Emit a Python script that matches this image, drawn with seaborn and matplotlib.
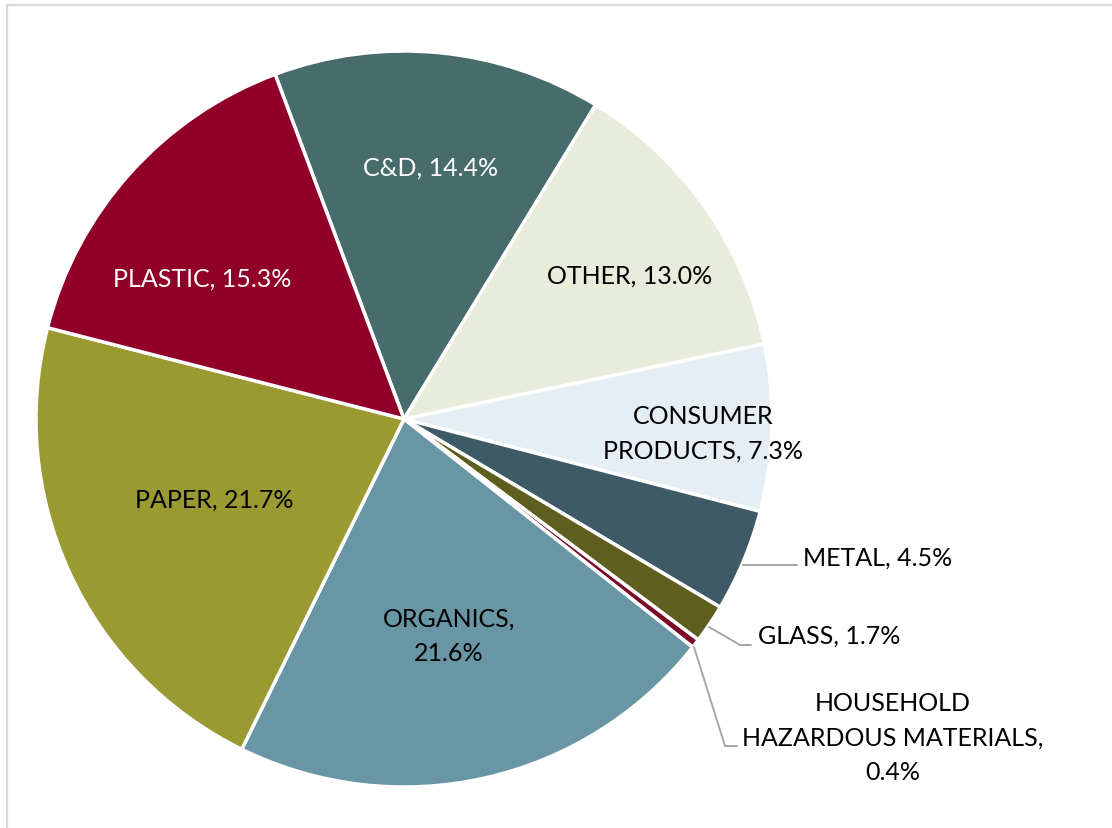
import matplotlib
matplotlib.use('Agg')
import matplotlib.pyplot as plt
import seaborn as sns

# waste composition shares (%), clockwise from the C&D slice
categories = ['C&D', 'OTHER', 'CONSUMER\nPRODUCTS', 'METAL', 'GLASS',
              'HOUSEHOLD\nHAZARDOUS MATERIALS,', 'ORGANICS', 'PAPER', 'PLASTIC']
shares = [14.4, 13.0, 7.3, 4.5, 1.7, 0.4, 21.6, 21.7, 15.3]
colors = ['#476c6b', '#e8ecda', '#e5eef4', '#3e5a66', '#5e5e1f',
          '#7a0a26', '#6996a5', '#9a9a33', '#910029']
text_colors = ['white', 'black', 'black', 'black', 'black',
               'black', 'black', 'black', 'white']
label_texts = ['C&D, 14.4%', 'OTHER, 13.0%', 'CONSUMER\nPRODUCTS, 7.3%',
               'METAL, 4.5%', 'GLASS, 1.7%',
               'HOUSEHOLD\nHAZARDOUS MATERIALS,\n0.4%',
               'ORGANICS,\n21.6%', 'PAPER, 21.7%', 'PLASTIC, 15.3%']

# label centres in pixels of the 1112x829 canvas
label_px = [(431, 168), (630, 276), (703, 434), (878, 558), (829, 636),
            (893, 738), (449, 636), (214, 500), (202, 279)]
# leader lines for the small outside slices (pixels)
leaders = {
    3: [(743, 566), (797, 566)],
    4: [(709, 628), (740, 646), (751, 646)],
    5: [(694, 648), (725, 747), (737, 747)],
}

sns.set_theme(style='white')
plt.rcParams['font.family'] = ['Lato', 'DejaVu Sans']

W, H = 1112, 829
cx, cy, R = 404, 420, 368
fig = plt.figure(figsize=(W / 100, H / 100), dpi=100)
ax = fig.add_axes([(cx - R) / W, (H - cy - R) / H, 2 * R / W, 2 * R / H])
ax.pie(shares, colors=colors, startangle=110.5, counterclock=False,
       radius=1, wedgeprops=dict(edgecolor='white', linewidth=2.5))
ax.set_xlim(-1, 1)
ax.set_ylim(-1, 1)
ax.set_aspect('equal')
ax.axis('off')


def to_data(px, py):
    return (px - cx) / R, (cy - py) / R


for i, txt in enumerate(label_texts):
    x, y = to_data(*label_px[i])
    ax.text(x, y, txt, ha='center', va='center', fontsize=18,
            color=text_colors[i], linespacing=1.6, clip_on=False)

for pts in leaders.values():
    xs, ys = zip(*[to_data(*p) for p in pts])
    ax.plot(xs, ys, color='#a6a6a6', linewidth=1.4, clip_on=False)

# chart-area border (top and left only are visible)
fig.add_artist(plt.Line2D([6.5 / W, 6.5 / W], [0, 1 - 6 / H],
                          transform=fig.transFigure, color='#d9d9d9', linewidth=1.6))
fig.add_artist(plt.Line2D([6.5 / W, 1], [1 - 6 / H, 1 - 6 / H],
                          transform=fig.transFigure, color='#d9d9d9', linewidth=1.6))

fig.savefig('out.png', dpi=100, facecolor='white')
